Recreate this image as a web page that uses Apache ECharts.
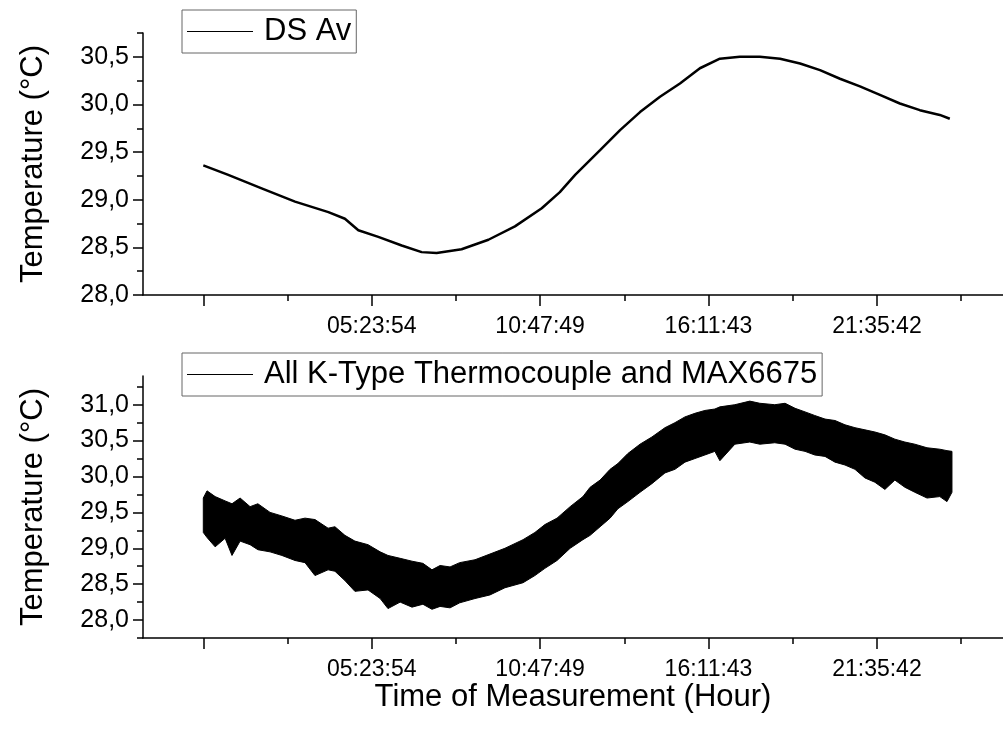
<!DOCTYPE html>
<html>
<head>
<meta charset="utf-8">
<script src="https://cdn.jsdelivr.net/npm/echarts@6/dist/echarts.min.js"></script>
<style>
html,body{margin:0;padding:0;background:#fff}
#chart{width:1003px;height:736px}
</style>
</head>
<body>
<div id="chart"></div>
<script>
// time since start of measurement, in hours
let dsHours = [0, 0.80, 1.87, 2.94, 4.01, 4.54, 4.97, 5.61, 6.36, 7.00, 7.48, 8.28, 9.14, 9.99, 10.85,
  11.43, 11.92, 12.72, 13.36, 14.00, 14.64, 15.28, 15.92, 16.56, 17.20, 17.84, 18.49, 19.13, 19.77,
  20.41, 21.05, 21.69, 22.33, 22.97, 23.61, 23.93];
let dsTemp = [29.36, 29.26, 29.12, 28.98, 28.87, 28.80, 28.68, 28.61, 28.52, 28.45, 28.44, 28.48, 28.58,
  28.72, 28.91, 29.08, 29.26, 29.52, 29.73, 29.92, 30.08, 30.22, 30.38, 30.48, 30.50, 30.50, 30.48,
  30.43, 30.36, 30.27, 30.19, 30.10, 30.01, 29.94, 29.89, 29.85];

// thermocouple trace: upper and lower edge of the noisy band
let tcHours = [0, 0.12, 0.38, 0.70, 0.92, 1.18, 1.50, 1.75, 2.14, 2.52, 2.94, 3.26, 3.58, 4.00, 4.22,
  4.54, 4.86, 5.28, 5.67, 5.92, 6.31, 6.69, 7.04, 7.33, 7.59, 7.91, 8.22, 8.71, 9.19, 9.67, 10.25,
  10.63, 10.95, 11.34, 11.76, 12.17, 12.40, 12.72, 13.04, 13.29, 13.61, 14.00, 14.38, 14.80, 15.12,
  15.44, 15.76, 16.08, 16.40, 16.56, 17.04, 17.52, 17.84, 18.32, 18.65, 18.97, 19.29, 19.60, 19.93,
  20.25, 20.57, 20.89, 21.21, 21.53, 21.85, 22.17, 22.49, 22.81, 23.20, 23.61, 23.84, 24.00];
let tcHigh = [29.70, 29.80, 29.72, 29.66, 29.62, 29.70, 29.58, 29.62, 29.50, 29.45, 29.39, 29.42, 29.40,
  29.28, 29.30, 29.18, 29.10, 29.05, 28.95, 28.90, 28.86, 28.82, 28.79, 28.70, 28.76, 28.74, 28.80,
  28.84, 28.92, 29.00, 29.12, 29.22, 29.33, 29.42, 29.58, 29.72, 29.85, 29.95, 30.10, 30.18, 30.32,
  30.45, 30.55, 30.68, 30.75, 30.83, 30.88, 30.92, 30.94, 30.97, 31.00, 31.05, 31.02, 31.00, 31.02,
  30.95, 30.90, 30.85, 30.80, 30.78, 30.72, 30.68, 30.65, 30.62, 30.58, 30.52, 30.48, 30.45, 30.40,
  30.38, 30.36, 30.35];
let tcLow = [29.22, 29.15, 29.02, 29.14, 28.90, 29.10, 29.05, 28.98, 28.95, 28.90, 28.83, 28.80, 28.62,
  28.70, 28.68, 28.55, 28.40, 28.42, 28.30, 28.16, 28.25, 28.18, 28.22, 28.15, 28.19, 28.17, 28.24,
  28.30, 28.35, 28.45, 28.52, 28.62, 28.72, 28.83, 29.00, 29.12, 29.18, 29.30, 29.42, 29.55, 29.65,
  29.78, 29.90, 30.05, 30.10, 30.20, 30.25, 30.30, 30.35, 30.22, 30.45, 30.48, 30.45, 30.47, 30.45,
  30.38, 30.35, 30.30, 30.28, 30.20, 30.16, 30.10, 29.98, 29.92, 29.82, 29.95, 29.85, 29.78, 29.70,
  29.72, 29.65, 29.78];

// tick positions on the time axis, seconds
let majorTickSec = [0, 19434, 38869, 58303, 77742];
let minorTickSec = [9717, 29152, 48586, 68022, 87460];
let yTopMajor = [28, 28.5, 29, 29.5, 30, 30.5];
let yTopMinor = [28.25, 28.75, 29.25, 29.75, 30.25, 30.75];
let yBotMajor = [28, 28.5, 29, 29.5, 30, 30.5, 31];
let yBotMinor = [27.75, 28.25, 28.75, 29.25, 29.75, 30.25, 30.75, 31.25];

const FONT = '"Liberation Sans", Arial, sans-serif';
const xMin = -1.933, xMax = 25.636;
const TC_NAME = 'All K-Type Thermocouple and MAX6675';

function pad(n){ return (n<10?'0':'')+n; }
function hms(h){
    let s = Math.round(h*3600);
    return pad(Math.floor(s/3600))+':'+pad(Math.floor(s%3600/60))+':'+pad(s%60);
}

function xMain(g, withName){
    let ax = {
        type:'value', gridIndex:g, position:'bottom', min:xMin, max:xMax, z:5,
        axisLine:{show:true, onZero:false, lineStyle:{color:'#000', width:1.5}},
        axisTick:{show:true, customValues:majorTickSec.map(s=>s/3600), length:11, lineStyle:{color:'#000', width:1.5}},
        axisLabel:{customValues:majorTickSec.slice(1).map(s=>s/3600), formatter:hms,
            fontSize:23, color:'#000', fontFamily:FONT, margin:20},
        splitLine:{show:false}
    };
    if (withName) {
        ax.name = 'Time of Measurement (Hour)';
        ax.nameLocation = 'middle';
        ax.nameGap = 35;
        ax.nameTextStyle = {fontSize:31, color:'#000', fontFamily:FONT};
    }
    return ax;
}
function xMinor(g){
    return {
        type:'value', gridIndex:g, position:'bottom', min:xMin, max:xMax, z:5,
        axisLine:{show:false},
        axisTick:{show:true, customValues:minorTickSec.map(s=>s/3600), length:6, lineStyle:{color:'#000', width:1.5}},
        axisLabel:{show:false}, splitLine:{show:false}
    };
}
function yMain(g, min, max, major){
    return {
        type:'value', gridIndex:g, position:'left', min:min, max:max, z:5,
        name:'Temperature (°C)', nameLocation:'middle', nameGap:94,
        nameTextStyle:{fontSize:31, color:'#000', fontFamily:FONT},
        axisLine:{show:true, onZero:false, lineStyle:{color:'#000', width:1.5}},
        axisTick:{show:true, customValues:major, length:10, lineStyle:{color:'#000', width:1.5}},
        axisLabel:{customValues:major, formatter:v=>v.toFixed(1).replace('.', ','),
            fontSize:25, color:'#000', fontFamily:FONT, margin:14},
        splitLine:{show:false}
    };
}
function yMinor(g, min, max, minor){
    return {
        type:'value', gridIndex:g, position:'left', min:min, max:max, z:5,
        axisLine:{show:false, onZero:false},
        axisTick:{show:true, customValues:minor, length:6, lineStyle:{color:'#000', width:1.5}},
        axisLabel:{show:false}, splitLine:{show:false}
    };
}
function legendBox(name, top){
    return {
        data:[{name:name, icon:'rect', itemStyle:{color:'#000'}}], left:182, top:top, orient:'horizontal',
        itemWidth:66, itemHeight:1.2,
        borderColor:'#666', borderWidth:1, borderRadius:0, padding:[6,5,6,5],
        backgroundColor:'#fff',
        textStyle:{fontSize:31, color:'#000', fontFamily:FONT, padding:[0,0,0,6]},
        selectedMode:false
    };
}

// band between lower and upper edge, one polygon through the axis scales
function renderBand(params, api){
    if (params.dataIndexInside !== 0) return null;
    let n = params.dataInsideLength, top = [], bottom = [];
    for (let i = 0; i < n; i++) {
        top.push(api.coord([api.value(0, i), api.value(2, i)]));
        bottom.push(api.coord([api.value(0, i), api.value(1, i)]));
    }
    return {
        type:'polygon',
        shape:{points:top.concat(bottom.reverse())},
        style:{fill:'#000', stroke:'#000', lineWidth:1}
    };
}

let chart = echarts.init(document.getElementById('chart'), null, {renderer:'canvas'});
let option = {
    animation:false,
    backgroundColor:'#fff',
    grid:[
        {left:143, right:0, top:33, height:262},
        {left:143, right:0, top:376, height:262}
    ],
    legend:[
        legendBox('DS Av', 10),
        legendBox(TC_NAME, 353)
    ],
    xAxis:[xMain(0,false), xMinor(0), xMain(1,true), xMinor(1)],
    yAxis:[
        yMain(0, 28, 30.75, yTopMajor), yMinor(0, 28, 30.75, yTopMinor),
        yMain(1, 27.75, 31.4, yBotMajor), yMinor(1, 27.75, 31.4, yBotMinor)
    ],
    series:[
        {
            name:'DS Av', type:'line', xAxisIndex:0, yAxisIndex:0,
            data:dsHours.map((h,i)=>[h, dsTemp[i]]),
            symbol:'none', showSymbol:false,
            lineStyle:{color:'#000', width:2.5}, itemStyle:{color:'#000'}
        },
        {
            name:TC_NAME, type:'custom', xAxisIndex:2, yAxisIndex:2,
            data:tcHours.map((h,i)=>[h, tcLow[i], tcHigh[i]]),
            encode:{x:0, y:[1,2]},
            itemStyle:{color:'#000'},
            renderItem:renderBand
        }
    ]
};
chart.setOption(option);
</script>
</body>
</html>
